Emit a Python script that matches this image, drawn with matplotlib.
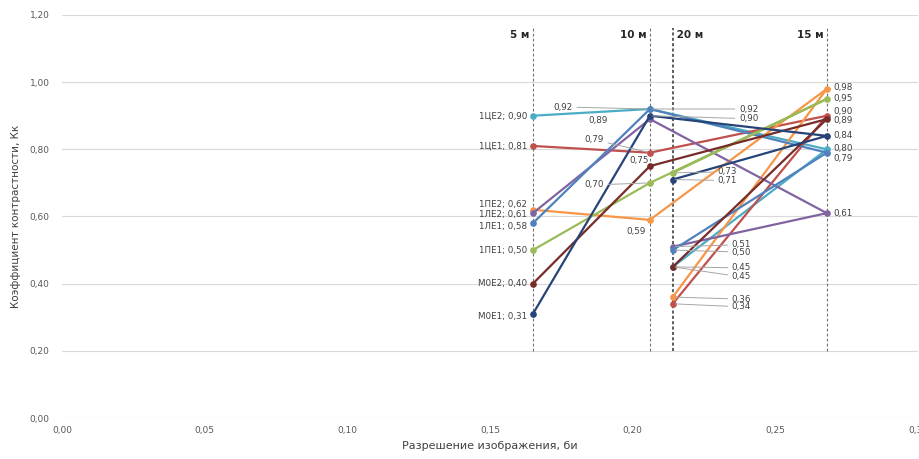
import matplotlib
matplotlib.use("Agg")
import matplotlib.pyplot as plt

plt.rcParams['font.family'] = ['DejaVu Sans']

# Shooting distances and the image resolution at each of them
distances = ['5 м', '10 м', '15 м', '20 м']
resolution = [0.165, 0.206, 0.268, 0.214]

# Contrast coefficient per sample, ordered as distances above
series_names = ['1ЦЕ2', '1ЦЕ1', '1ПЕ2', '1ЛЕ2', '1ЛЕ1', '1ПЕ1', 'М0Е2', 'М0Е1']
v_1ce2 = [0.90, 0.92, 0.80, 0.45]
v_1ce1 = [0.81, 0.79, 0.90, 0.34]
v_1pe2 = [0.62, 0.59, 0.98, 0.36]
v_1le2 = [0.61, 0.89, 0.61, 0.51]
v_1le1 = [0.58, 0.92, 0.79, 0.50]
v_1pe1 = [0.50, 0.70, 0.95, 0.73]
v_m0e2 = [0.40, 0.75, 0.89, 0.45]
v_m0e1 = [0.31, 0.90, 0.84, 0.71]
series_values = [v_1ce2, v_1ce1, v_1pe2, v_1le2, v_1le1, v_1pe1, v_m0e2, v_m0e1]

x_ticks = [0.00, 0.05, 0.10, 0.15, 0.20, 0.25, 0.30]
y_ticks = [0.00, 0.20, 0.40, 0.60, 0.80, 1.00, 1.20]

colors = ['#4BACC6', '#C0504D', '#F79646', '#8064A2',
          '#4F81BD', '#9BBB59', '#772C2A', '#264478']

# Label placement: (series, point) -> (dx px, dy px, align, leader line)
label_pos = {
    # 5 m: series name and value on the left
    (0, 0): (-6, 0, 'right', False), (1, 0): (-6, 0, 'right', False),
    (2, 0): (-6, 5, 'right', False), (3, 0): (-6, -1, 'right', False),
    (4, 0): (-6, -3, 'right', False), (5, 0): (-6, 0, 'right', False),
    (6, 0): (-6, 0, 'right', False), (7, 0): (-6, -3, 'right', False),
    # 10 m
    (0, 1): (-77, 2, 'right', True), (3, 1): (-42, -1, 'right', False),
    (1, 1): (-46, 13, 'right', True), (6, 1): (-1, 6, 'right', False),
    (5, 1): (-46, -2, 'right', True), (2, 1): (-4, -12, 'right', False),
    (4, 1): (89, 0, 'left', True), (7, 1): (89, -3, 'left', True),
    # 15 m
    (2, 2): (7, 1, 'left', False), (5, 2): (7, 0, 'left', False),
    (1, 2): (7, 4, 'left', False), (6, 2): (7, -1, 'left', False),
    (7, 2): (7, 0, 'left', False), (0, 2): (7, 1, 'left', False),
    (4, 2): (7, -6, 'left', False), (3, 2): (7, 0, 'left', False),
    # 20 m
    (5, 3): (45, 1, 'left', True), (7, 3): (45, -1, 'left', True),
    (3, 3): (59, 2, 'left', True), (4, 3): (59, -2, 'left', True),
    (0, 3): (59, -1, 'left', True), (6, 3): (59, -10, 'left', True),
    (2, 3): (59, -2, 'left', True), (1, 3): (59, -3, 'left', True),
}

PX = 0.72  # points per pixel at 100 dpi


def fmt(v):
    return f"{v:.2f}".replace('.', ',')


fig = plt.figure(figsize=(9.2, 4.59), dpi=100)
ax = fig.add_axes([0.0674, 0.0893, 0.9306, 0.8781])

ax.set_xlim(0, 0.30)
ax.set_ylim(0, 1.20)
ax.set_xticks(x_ticks)
ax.set_yticks(y_ticks)
ax.set_xticklabels([fmt(t) for t in x_ticks])
ax.set_yticklabels([fmt(t) for t in y_ticks])
ax.tick_params(length=0, labelsize=6.5, labelcolor='#595959')
ax.tick_params(axis='y', pad=9)
ax.tick_params(axis='x', pad=6)
for s in ax.spines.values():
    s.set_visible(False)
ax.grid(axis='y', color='#d9d9d9', linewidth=0.8)
ax.set_axisbelow(True)

ax.set_xlabel('Разрешение изображения, би', fontsize=8, color='#404040', labelpad=4)
ax.set_ylabel('Коэффициент контрастности, Кк', fontsize=7.5, color='#404040', labelpad=6)

# Distance markers
for i, (d, x) in enumerate(zip(distances, resolution)):
    if d == '20 м':
        ax.plot([x, x], [0.20, 1.16], color='#303030', lw=1.1, ls=(0, (2, 1.5)), zorder=1)
        ax.text(x, 1.14, ' ' + d, ha='left', va='center', fontsize=7.5,
                fontweight='bold', color='#262626')
    else:
        ax.plot([x, x], [0.20, 1.16], color='#6f6f6f', lw=0.8, ls=(0, (2.5, 2)), zorder=1)
        ax.text(x, 1.14, d + ' ', ha='right', va='center', fontsize=7.5,
                fontweight='bold', color='#262626')

# Series polylines
for name, vals, c in zip(series_names, series_values, colors):
    ax.plot(resolution, vals, color=c, lw=1.6, marker='o', markersize=3.8,
            markeredgecolor=c, zorder=3)

# Value labels
for si, (name, vals) in enumerate(zip(series_names, series_values)):
    for pi, v in enumerate(vals):
        dx, dy, ha, leader = label_pos[(si, pi)]
        txt = f"{name}; {fmt(v)}" if pi == 0 else fmt(v)
        kw = {}
        if leader:
            kw['arrowprops'] = dict(arrowstyle='-', color='#a6a6a6', lw=0.7,
                                    shrinkA=1, shrinkB=2)
        ax.annotate(txt, xy=(resolution[pi], v), xytext=(dx * PX, dy * PX),
                    textcoords='offset points', ha=ha, va='center',
                    fontsize=6.3, color='#404040', zorder=4, **kw)

fig.savefig('out.png', dpi=100)
